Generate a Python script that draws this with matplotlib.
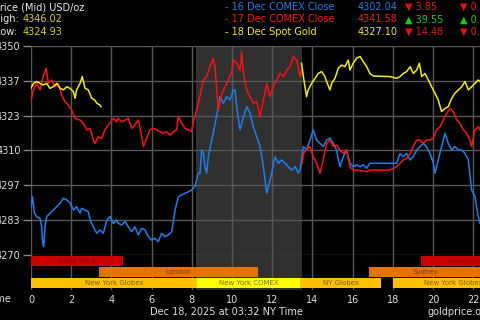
import numpy as np
import matplotlib
matplotlib.use("Agg")
import matplotlib.pyplot as plt

nan = np.nan

# ---------------- data ----------------
blue_hours = [0.00, 0.07, 0.17, 0.28, 0.45, 0.53, 0.58, 0.63, 0.70, 0.78, 0.95, 1.11, 1.28, 1.45, 1.61, 1.78,
              1.95, 2.11, 2.27, 2.44, 2.52, 2.69, 2.85, 2.94, 3.10, 3.27, 3.43, 3.60, 3.77, 3.93, 4.10, 4.26,
              4.34, 4.51, 4.68, 4.84, 5.01, 5.17, 5.34, 5.51, 5.67, 5.84, 6.00, 6.17, 6.33, 6.50, 6.67, 6.83,
              7.00, 7.17, 7.33, 7.50, 7.66, 7.83, 7.99, 8.16, 8.32, 8.41, 8.49, 8.58, 8.66, 8.74, 8.82, 8.99,
              9.16, 9.32, 9.40, 9.57, 9.74, 9.90, 10.07, 10.15, 10.23, 10.40, 10.57, 10.73, 10.90, 11.06, 11.23,
              11.40, 11.56, 11.73, 11.81, 11.98, 12.06, 12.14, 12.31, 12.47, 12.64, 12.80, 12.97, 13.14, 13.30,
              13.39, 13.55, 13.71, 13.88, 14.04, 14.21, 14.38, 14.54, 14.71, 14.87, 15.04, 15.20, 15.37, 15.54,
              15.70, 15.87, 16.03, 16.20, 16.37, 16.53, 16.70, 16.86, 18.19, 18.36, 18.52, 18.69, 18.86, 19.02,
              19.19, 19.35, 19.52, 19.68, 19.85, 20.02, 20.10, 20.26, 20.43, 20.60, 20.76, 20.93, 21.09, 21.26,
              21.43, 21.59, 21.76, 21.92, 22.09, 22.25, 22.34]
blue_prices = [4288.5, 4292.3, 4286.0, 4284.7, 4284.0, 4280.8, 4274.5, 4273.2, 4280.8, 4284.7, 4286.0, 4287.2,
               4288.5, 4289.8, 4291.7, 4291.1, 4289.8, 4287.2, 4288.5, 4286.0, 4287.9, 4287.2, 4286.6, 4283.4,
               4280.8, 4278.3, 4279.6, 4278.3, 4283.4, 4284.7, 4282.1, 4283.4, 4282.1, 4281.5, 4282.8, 4280.8,
               4278.9, 4280.8, 4277.7, 4280.2, 4279.6, 4277.0, 4275.7, 4276.4, 4275.1, 4278.3, 4277.0, 4277.7,
               4278.9, 4287.2, 4292.3, 4293.0, 4293.6, 4294.2, 4294.9, 4296.2, 4301.3, 4301.3, 4310.2, 4308.9,
               4303.8, 4301.3, 4307.6, 4314.0, 4320.4, 4326.8, 4330.6, 4328.1, 4330.6, 4329.3, 4333.2, 4333.2,
               4326.8, 4317.9, 4323.0, 4326.8, 4324.2, 4319.1, 4315.3, 4311.5, 4303.8, 4293.6, 4296.2, 4301.3,
               4305.1, 4307.6, 4305.1, 4306.4, 4305.1, 4303.8, 4302.5, 4303.8, 4301.3, 4302.5, 4311.5, 4310.2,
               4314.0, 4317.9, 4314.0, 4312.7, 4311.5, 4314.0, 4314.7, 4312.7, 4310.2, 4303.8, 4307.6, 4310.2,
               4305.1, 4303.8, 4304.5, 4303.8, 4304.5, 4303.2, 4305.1, 4305.1, 4308.9, 4307.6, 4308.9, 4306.4,
               4307.6, 4310.2, 4311.5, 4312.7, 4311.5, 4308.9, 4305.1, 4301.3, 4306.4, 4311.5, 4316.6, 4312.7,
               4310.2, 4311.5, 4310.2, 4310.2, 4308.9, 4306.4, 4294.9, 4292.3, 4284.7, 4282.1]

red_hours = [0.00, 0.12, 0.28, 0.45, 0.61, 0.75, 0.86, 1.03, 1.19, 1.36, 1.53, 1.69, 1.86, 2.02, 2.19, 2.44,
             2.60, 2.77, 2.94, 3.10, 3.18, 3.35, 3.52, 3.68, 3.85, 4.10, 4.26, 4.34, 4.51, 4.68, 4.84, 5.01,
             5.17, 5.34, 5.51, 5.59, 5.75, 5.92, 6.09, 6.25, 6.42, 6.58, 6.75, 6.92, 7.08, 7.25, 7.33, 7.50,
             7.66, 7.83, 7.99, 8.08, 8.24, 8.41, 8.57, 8.74, 8.91, 9.07, 9.15, 9.24, 9.32, 9.49, 9.65, 9.82,
             9.99, 10.07, 10.23, 10.40, 10.48, 10.57, 10.73, 10.90, 11.06, 11.23, 11.40, 11.56, 11.73, 11.89,
             12.06, 12.22, 12.39, 12.56, 12.72, 12.89, 13.05, 13.22, 13.39, 13.47, 13.49, 13.50, 13.55, 13.71,
             13.88, 14.04, 14.21, 14.38, 14.54, 14.71, 14.87, 15.04, 15.20, 15.37, 15.54, 15.70, 15.87, 16.03,
             16.37, 16.70, 16.86, 17.86, 18.19, 18.36, 18.52, 18.69, 18.86, 19.02, 19.19, 19.35, 19.52, 19.68,
             19.85, 20.02, 20.18, 20.35, 20.51, 20.68, 20.85, 21.01, 21.18, 21.34, 21.51, 21.67, 21.84, 21.92,
             22.09, 22.25, 22.34]
red_prices = [4329.3, 4333.2, 4335.7, 4333.2, 4338.3, 4341.5, 4335.7, 4337.0, 4334.4, 4335.7, 4331.2, 4328.7,
              4327.4, 4325.5, 4322.3, 4321.7, 4320.4, 4317.9, 4318.5, 4314.0, 4312.7, 4315.3, 4314.7, 4317.9,
              4319.8, 4322.3, 4321.0, 4322.3, 4321.0, 4321.7, 4322.3, 4318.5, 4319.8, 4321.7, 4315.3, 4311.5,
              4314.7, 4317.9, 4318.5, 4317.9, 4317.2, 4316.6, 4317.2, 4315.9, 4317.2, 4317.9, 4323.0, 4320.4,
              4318.5, 4317.9, 4317.2, 4321.0, 4325.5, 4331.0, 4337.0, 4338.3, 4342.1, 4345.3, 4342.1, 4333.2,
              4325.5, 4331.9, 4334.4, 4337.0, 4340.2, 4344.6, 4343.4, 4340.8, 4347.8, 4339.5, 4333.2, 4330.6,
              4328.1, 4328.7, 4323.0, 4329.3, 4335.7, 4330.6, 4334.4, 4337.0, 4339.5, 4338.3, 4340.8, 4342.1,
              4345.9, 4344.6, 4338.3, 4340.8, nan, 4305.1, 4308.9, 4310.2, 4311.5, 4307.6, 4305.1, 4301.3,
              4306.4, 4312.7, 4314.0, 4311.5, 4312.1, 4310.2, 4308.9, 4310.2, 4303.8, 4302.5, 4302.3, 4301.9,
              4302.5, 4302.5, 4303.8, 4305.1, 4306.4, 4307.0, 4308.9, 4311.5, 4314.0, 4314.0, 4312.7, 4314.0,
              4314.0, 4314.7, 4317.9, 4319.1, 4321.7, 4324.2, 4326.1, 4324.9, 4321.7, 4320.4, 4317.9, 4316.6,
              4314.0, 4311.5, 4317.9, 4319.1, 4317.9]

yellow_hours = [0.00, 0.12, 0.28, 0.45, 0.61, 0.78, 0.94, 1.11, 1.28, 1.45, 1.61, 1.78, 1.94, 2.11, 2.19, 2.27,
                2.44, 2.55, 2.69, 2.85, 3.02, 3.18, 3.27, 3.43, 3.48, 3.50, 13.46, 13.55, 13.71, 13.79, 13.96,
                14.13, 14.29, 14.46, 14.62, 14.71, 14.87, 14.96, 15.12, 15.29, 15.45, 15.62, 15.78, 15.87, 16.03,
                16.20, 16.37, 16.53, 16.70, 16.86, 17.03, 17.86, 18.19, 18.36, 18.52, 18.69, 18.86, 19.02, 19.19,
                19.32, 19.44, 19.60, 19.77, 19.93, 20.10, 20.26, 20.43, 20.60, 20.76, 20.93, 21.09, 21.26, 21.43,
                21.59, 21.76, 21.92, 22.09, 22.25, 22.34]
yellow_prices = [4333.8, 4335.7, 4336.4, 4335.7, 4335.1, 4335.7, 4333.8, 4334.4, 4335.7, 4333.8, 4333.2, 4334.4,
                 4333.8, 4332.5, 4330.0, 4333.2, 4335.7, 4338.3, 4333.8, 4333.2, 4330.0, 4329.3, 4328.1, 4327.4,
                 4326.8, nan, 4343.4, 4338.3, 4330.6, 4333.2, 4335.7, 4337.6, 4339.5, 4340.2, 4338.3, 4336.4,
                 4333.2, 4335.7, 4337.6, 4341.5, 4342.7, 4342.1, 4344.6, 4340.8, 4343.4, 4345.3, 4346.0, 4344.0,
                 4342.1, 4339.5, 4338.5, 4338.3, 4337.6, 4338.3, 4339.5, 4340.2, 4342.1, 4339.5, 4340.8, 4343.4,
                 4338.3, 4339.5, 4337.0, 4334.4, 4331.9, 4329.3, 4324.9, 4326.1, 4326.8, 4330.0, 4331.9, 4333.2,
                 4334.4, 4336.4, 4333.2, 4334.4, 4335.7, 4337.0, 4336.4]

y_ticks = [4270, 4283.333, 4296.667, 4310, 4323.333, 4336.667, 4350]
y_tick_labels = ["4270", "4283", "4297", "4310", "4323", "4337", "4350"]
x_ticks = [0, 2, 4, 6, 8, 10, 12, 14, 16, 18, 20, 22, 24]

session_names = ["Hong Kong", "Hong Kong", "London", "Sydney", "New York Globex", "New York COMEX",
                 "NY Globex", "New York Globex"]
session_rows = [0, 0, 1, 1, 2, 2, 2, 2]
session_start = [0.0, 19.4, 3.38, 16.8, 0.0, 8.26, 13.4, 18.0]
session_end = [4.58, 24.0, 11.29, 22.4, 8.26, 13.4, 17.4, 24.0]
session_colors = ["#cc0000", "#cc0000", "#e67300", "#e67300", "#ffc000", "#ffff00", "#ffc000", "#ffc000"]
session_text_colors = ["#8a0000", "#8a0000", "#7a3a00", "#7a3a00", "#7a5a00", "#7a6a00", "#7a5a00", "#7a5a00"]

comex_span = (8.2, 13.48)

legend_labels = ["- 16 Dec COMEX Close", "- 17 Dec COMEX Close", "- 18 Dec Spot Gold"]
legend_values = ["4302.04", "4341.58", "4327.10"]
legend_changes = ["\u25bc 3.85", "\u25b2 39.55", "\u25bc 14.48"]
legend_pcts = ["\u25bc 0.", "\u25b2 0.", "\u25bc 0."]
series_colors = ["#1a7ff0", "#ff1010", "#f0f000"]
change_colors = ["#e81010", "#10d010", "#e81010"]

# ---------------- figure ----------------
W, H = 480, 320
fig = plt.figure(figsize=(W / 100, H / 100), dpi=100, facecolor="black")
plt.rcParams["font.family"] = ["DejaVu Sans"]


def fx(px):
    return px / W


def fy(py):
    return 1 - py / H


x0 = 31
xscale = 20.1
ax = fig.add_axes([fx(x0), fy(255), 24 * xscale / W, 209 / H])
ax2 = fig.add_axes([fx(x0), fy(290), 24 * xscale / W, 35 / H])

grid_col = "#585858"
for a in (ax, ax2):
    a.set_facecolor("black")
    for s in a.spines.values():
        s.set_visible(False)
    a.set_xlim(0, 24)
    a.set_xticks(x_ticks)
    a.set_axisbelow(True)
    a.grid(axis="x", color=grid_col, lw=1)
    a.axvspan(comex_span[0], comex_span[1], color="#303030", zorder=0, lw=0)

ax.set_ylim(4270, 4350)
ax.set_yticks(y_ticks)
ax.set_yticklabels(y_tick_labels)
ax.grid(axis="y", color=grid_col, lw=1)
ax.tick_params(axis="y", colors="#888888", labelcolor="#e0e0e0", labelsize=7, length=6, pad=1.5, width=1)
ax.tick_params(axis="x", length=0, labelbottom=False)

ax.plot(blue_hours, blue_prices, color=series_colors[0], lw=1.1, zorder=3)
ax.plot(red_hours, red_prices, color=series_colors[1], lw=1.1, zorder=4)
ax.plot(yellow_hours, yellow_prices, color=series_colors[2], lw=1.1, zorder=5)

ax2.set_ylim(35, 0)
ax2.set_yticks([])
ax2.tick_params(axis="x", length=0, labelcolor="#e0e0e0", labelsize=7, pad=3.5)
ax2.set_xticklabels([str(t) for t in x_ticks])
row_centers = [6, 17, 28]
for name, row, s, e, c, tc in zip(session_names, session_rows, session_start, session_end,
                                   session_colors, session_text_colors):
    ax2.barh(row_centers[row], e - s, left=s, height=10, color=c, zorder=2, lw=0)
    ax2.text((s + e) / 2, row_centers[row], name, color=tc, fontsize=5,
             ha="center", va="center", zorder=3)

# ---------------- header texts ----------------
fig.text(fx(-6), fy(7), "Price (Mid) USD/oz", color="#e8e8e8", fontsize=7, va="center", ha="left")
fig.text(fx(-7), fy(19.5), "High:", color="#e8e8e8", fontsize=7, va="center", ha="left")
fig.text(fx(23), fy(19.5), "4346.02", color="#d8d800", fontsize=7, va="center", ha="left")
fig.text(fx(-5.5), fy(32), "Low:", color="#e8e8e8", fontsize=7, va="center", ha="left")
fig.text(fx(23), fy(32), "4324.93", color="#d8d800", fontsize=7, va="center", ha="left")

row_y = [7, 19.5, 32]
for i in range(3):
    fig.text(fx(225), fy(row_y[i]), legend_labels[i], color=series_colors[i], fontsize=7, va="center")
    fig.text(fx(358), fy(row_y[i]), legend_values[i], color=series_colors[i], fontsize=7, va="center")
    fig.text(fx(405), fy(row_y[i]), legend_changes[i], color=change_colors[i], fontsize=7, va="center")
    fig.text(fx(460), fy(row_y[i]), legend_pcts[i], color=change_colors[i], fontsize=7, va="center")

fig.text(fx(11), fy(299), "Time", color="#e0e0e0", fontsize=7, va="center", ha="right")
fig.text(fx(150), fy(312), "Dec 18, 2025 at 03:32 NY Time", color="#e0e0e0", fontsize=7, va="center")
fig.text(fx(428), fy(312), "goldprice.org", color="#e0e0e0", fontsize=7, va="center")

fig.savefig("out.png", dpi=100, facecolor="black")
